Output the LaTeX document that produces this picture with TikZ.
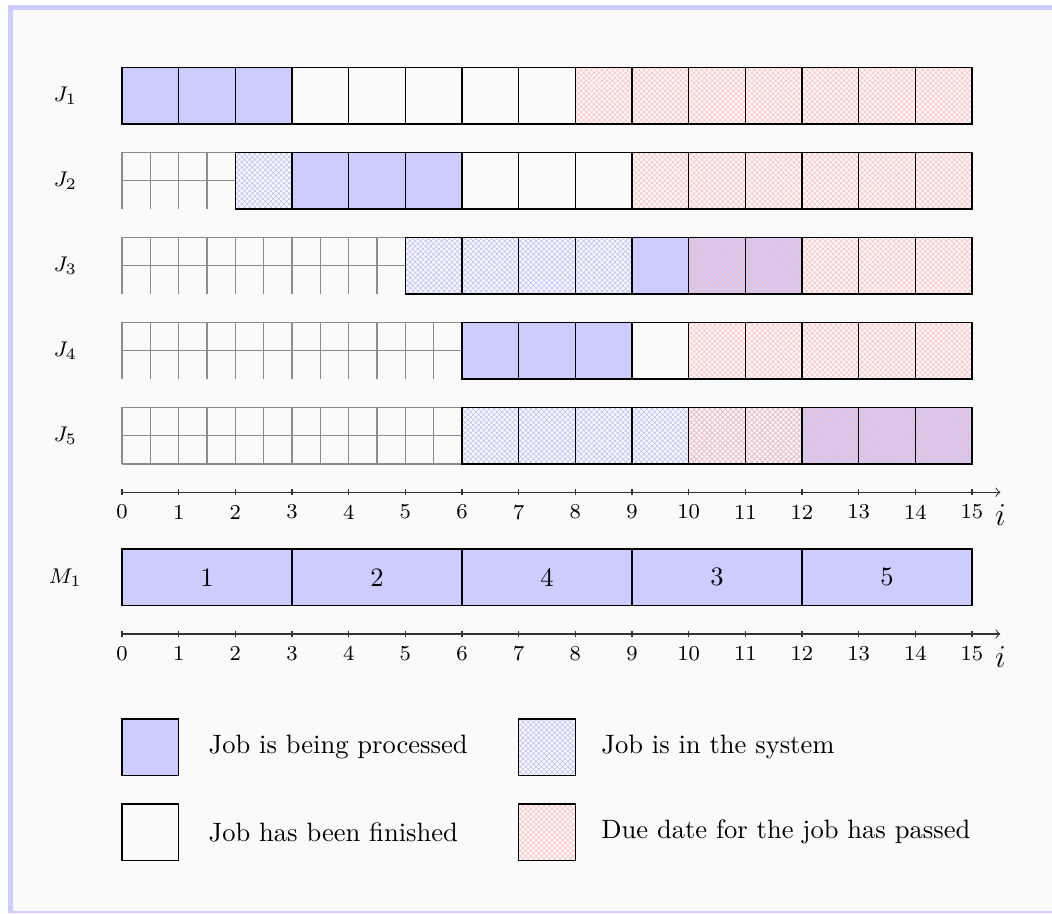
\documentclass[tikz,border=0pt]{standalone}
\usetikzlibrary{patterns.meta}
\tikzset{
  cellb/.style={draw=black, line width=0.4pt},
  bfill/.style={preaction={fill=blue!20}},
  bpat/.style={preaction={pattern={Lines[angle=45,distance=1.4pt,line width=0.2pt]}, pattern color=blue!28},
               preaction={pattern={Lines[angle=-45,distance=1.4pt,line width=0.2pt]}, pattern color=blue!28}},
  rpat/.style={preaction={pattern={Lines[angle=45,distance=1.4pt,line width=0.2pt]}, pattern color=red!28},
               preaction={pattern={Lines[angle=-45,distance=1.4pt,line width=0.2pt]}, pattern color=red!28}},
  proc/.style={bfill, cellb},
  fin/.style={cellb},
  sys/.style={bpat, cellb},
  due/.style={rpat, cellb},
  sysdue/.style={bpat, rpat, cellb},
  procdue/.style={bfill, rpat, cellb},
  waitgrid/.style={draw=black!45, line width=0.4pt},
  joblbl/.style={font=\footnotesize},
  ticklbl/.style={font=\footnotesize, inner sep=0pt},
  ilbl/.style={font=\large, inner sep=0pt},
  leglbl/.style={anchor=west, inner sep=0pt},
  axisline/.style={draw=black!80, line width=0.4pt, ->},
}
\begin{document}
\begin{tikzpicture}[x=0.75cm,y=0.75cm]
\useasboundingbox (-2.153,-7.941) rectangle (16.412,8.188);
% frame
\fill[white] (-2.2,-8) rectangle (16.5,8.3);
\fill[black!2] (-1.915,-7.888) rectangle (16.5,8.003);
\fill[blue!20] (-2.012,-7.923) rectangle (-1.915,8.100);
\fill[blue!20] (-2.012,8.003) rectangle (16.5,8.100);
\fill[blue!20] (-1.915,-7.923) rectangle (16.5,-7.888);

% job labels
\node[joblbl] (J1) at (-1,6.5) {$J_1$};
\node[joblbl] (J2) at (-1,5.0) {$J_2$};
\node[joblbl] (J3) at (-1,3.5) {$J_3$};
\node[joblbl] (J4) at (-1,2.0) {$J_4$};
\node[joblbl] (J5) at (-1,0.5) {$J_5$};
\node[joblbl] (M1) at (-1,-2.0) {$M_1$};

% J1
\foreach \c in {0,1,2} \draw[proc] (\c,6) rectangle ++(1,1);
\foreach \c in {3,...,7} \draw[fin] (\c,6) rectangle ++(1,1);
\foreach \c in {8,...,14} \draw[due] (\c,6) rectangle ++(1,1);

% J2
\draw[waitgrid, step=0.5] (0,4.5) grid (2,5.5);
\draw[sys] (2,4.5) rectangle ++(1,1);
\foreach \c in {3,4,5} \draw[proc] (\c,4.5) rectangle ++(1,1);
\foreach \c in {6,7,8} \draw[fin] (\c,4.5) rectangle ++(1,1);
\foreach \c in {9,...,14} \draw[due] (\c,4.5) rectangle ++(1,1);

% J3
\draw[waitgrid, step=0.5] (0,3) grid (5,4);
\foreach \c in {5,...,8} \draw[sys] (\c,3) rectangle ++(1,1);
\draw[proc] (9,3) rectangle ++(1,1);
\foreach \c in {10,11} \draw[procdue] (\c,3) rectangle ++(1,1);
\foreach \c in {12,13,14} \draw[due] (\c,3) rectangle ++(1,1);

% J4
\draw[waitgrid, step=0.5] (0,1.5) grid (6,2.5);
\foreach \c in {6,7,8} \draw[proc] (\c,1.5) rectangle ++(1,1);
\draw[fin] (9,1.5) rectangle ++(1,1);
\foreach \c in {10,...,14} \draw[due] (\c,1.5) rectangle ++(1,1);

% J5
\draw[waitgrid, step=0.5] (0,0) grid (6,1);
\foreach \c in {6,...,9} \draw[sys] (\c,0) rectangle ++(1,1);
\foreach \c in {10,11} \draw[sysdue] (\c,0) rectangle ++(1,1);
\foreach \c in {12,13,14} \draw[procdue] (\c,0) rectangle ++(1,1);

% axis 1
\coordinate (a1s) at (0,-0.5);
\coordinate (a1e) at (15.5,-0.5);
\draw[axisline] (a1s) -- (a1e);
\foreach \t in {0,...,15} {
  \draw[black!80] (\t,-0.45) -- (\t,-0.55);
  \node[ticklbl] (ta\t) at (\t,-0.85) {\t};
}
\node[ilbl] (ia) at (15.5,-0.91) {$i$};

% machine
\foreach \s/\e/\j in {0/3/1, 3/6/2, 6/9/4, 9/12/3, 12/15/5} {
  \draw[proc] (\s,-2.5) rectangle (\e,-1.5);
  \node (m\j) at ({(\s+\e)/2},-2) {\j};
}

% axis 2
\coordinate (a2s) at (0,-3.0);
\coordinate (a2e) at (15.5,-3.0);
\draw[axisline] (a2s) -- (a2e);
\foreach \t in {0,...,15} {
  \draw[black!80] (\t,-2.95) -- (\t,-3.05);
  \node[ticklbl] (tb\t) at (\t,-3.35) {\t};
}
\node[ilbl] (ib) at (15.5,-3.41) {$i$};

% legend
\draw[proc] (0,-5.5) rectangle (1,-4.5);
\node[leglbl] (l1) at (1.52,-5.0) {Job is being processed};
\draw[fin] (0,-7.0) rectangle (1,-6.0);
\node[leglbl] (l2) at (1.52,-6.5) {Job has been finished};
\draw[sys] (7,-5.5) rectangle (8,-4.5);
\node[leglbl] (l3) at (8.45,-5.0) {Job is in the system};
\draw[due] (7,-7.0) rectangle (8,-6.0);
\node[leglbl] (l4) at (8.45,-6.5) {Due date for the job has passed};
\end{tikzpicture}
\end{document}
